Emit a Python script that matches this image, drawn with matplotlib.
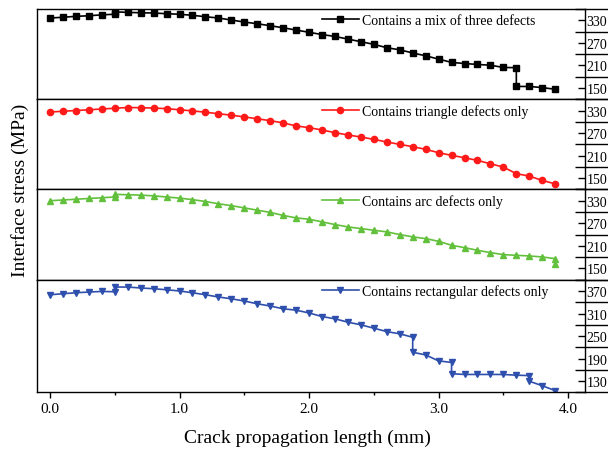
import numpy as np
import matplotlib.pyplot as plt
from matplotlib.ticker import FixedLocator, MultipleLocator, FormatStrFormatter, NullLocator

plt.rcParams['font.family'] = ['Liberation Serif', 'DejaVu Serif']

# 裂纹扩展长度 (mm) 与界面应力 (MPa)
x_mix = [0.0, 0.1, 0.2, 0.3, 0.4, 0.5, 0.5, 0.6, 0.7, 0.8, 0.9, 1.0, 1.1, 1.2, 1.3, 1.4,
         1.5, 1.6, 1.7, 1.8, 1.9, 2.0, 2.1, 2.2, 2.3, 2.4, 2.5, 2.6, 2.7, 2.8, 2.9, 3.0,
         3.1, 3.2, 3.3, 3.4, 3.5, 3.6, 3.6, 3.7, 3.8, 3.9]
s_mix = [336, 338, 340.5, 342, 344.5, 346, 352.5, 351, 350, 349.3, 347.5, 346, 343.2, 339.5, 336, 330.7,
         325.3, 320.8, 315.5, 310, 304, 298, 292, 287, 280, 273, 266, 257, 251.5, 243, 235.5, 226.7,
         218, 215, 212.5, 210.5, 204.5, 204, 154, 154, 151, 146.5]

x_tri = [0.0, 0.1, 0.2, 0.3, 0.4, 0.5, 0.6, 0.7, 0.8, 0.9, 1.0, 1.1, 1.2, 1.3, 1.4,
         1.5, 1.6, 1.7, 1.8, 1.9, 2.0, 2.1, 2.2, 2.3, 2.4, 2.5, 2.6, 2.7, 2.8, 2.9, 3.0,
         3.1, 3.2, 3.3, 3.4, 3.5, 3.6, 3.7, 3.8, 3.9]
s_tri = [326, 328, 330, 332, 334, 336, 338, 337.5, 336.5, 335, 332, 329, 325.5, 321.5, 317.5,
         313, 308, 303, 297, 289, 284.4, 278.2, 271.1, 265, 259.5, 253.3, 246.2, 240, 233.8, 226.7, 217.8,
         210.7, 204.4, 197.3, 188.4, 179.5, 162, 155.6, 144, 135]

x_arc = [0.0, 0.1, 0.2, 0.3, 0.4, 0.5, 0.5, 0.6, 0.7, 0.8, 0.9, 1.0, 1.1, 1.2, 1.3, 1.4,
         1.5, 1.6, 1.7, 1.8, 1.9, 2.0, 2.1, 2.2, 2.3, 2.4, 2.5, 2.6, 2.7, 2.8, 2.9, 3.0,
         3.1, 3.2, 3.3, 3.4, 3.5, 3.6, 3.7, 3.8, 3.9, 3.9]
s_arc = [330, 332, 334, 336, 338, 340, 347, 346, 345, 343, 340, 337, 333, 328, 322, 317,
         311, 305, 299, 291, 284.4, 280.9, 273.8, 266.7, 260.4, 256, 251.5, 247.2, 240, 233.9, 229.3, 222.2,
         211.6, 205.3, 198.2, 192, 186.7, 184.9, 183.2, 180.5, 176, 163]

x_rect = [0.0, 0.1, 0.2, 0.3, 0.4, 0.5, 0.5, 0.6, 0.7, 0.8, 0.9, 1.0, 1.1, 1.2, 1.3, 1.4,
          1.5, 1.6, 1.7, 1.8, 1.9, 2.0, 2.1, 2.2, 2.3, 2.4, 2.5, 2.6, 2.7, 2.8, 2.8, 2.9, 3.0,
          3.1, 3.1, 3.2, 3.3, 3.4, 3.5, 3.6, 3.7, 3.7, 3.8, 3.9]
s_rect = [360, 362.7, 365.3, 367.2, 368.8, 368, 380.5, 380.5, 378, 376, 373.3, 370, 365.3, 360, 354, 349.3,
          343.2, 336, 330, 322.7, 319, 311.5, 302, 296, 287, 280, 271, 262, 256, 247, 207, 200, 184,
          180, 150, 148, 148, 148, 148, 146, 145, 130, 118, 105]

labels = ['Contains a mix of three defects', 'Contains triangle defects only',
          'Contains arc defects only', 'Contains rectangular defects only']
colors = ['#000000', '#ff1a1a', '#62c03c', '#2f4fad']
markers = ['s', 'o', '^', 'v']
marker_sizes = [4, 4.5, 5, 5]

# 各子图纵轴范围与刻度
ylims = [(120, 360), (120, 360), (120, 360), (100, 400)]
yticks = [[150, 210, 270, 330], [150, 210, 270, 330], [150, 210, 270, 330], [130, 190, 250, 310, 370]]

xs = [x_mix, x_tri, x_arc, x_rect]
ss = [s_mix, s_tri, s_arc, s_rect]


def style_panel(ax, ylim, ticks, is_bottom):
    minor = [t - 30 for t in ticks] + [ticks[-1] + 30]

    # 次刻度朝内的一段 (twinx 会把主轴刻度改到左边, 所以先建)
    ax2 = ax.twinx()
    ax2.set_ylim(*ylim)
    ax2.yaxis.set_major_locator(NullLocator())
    ax2.yaxis.set_minor_locator(FixedLocator(minor))
    ax2.tick_params(axis='y', which='minor', direction='in', length=7, width=1)
    for sp in ax2.spines.values():
        sp.set_visible(False)

    ax.set_ylim(*ylim)
    ax.set_xlim(-0.1, 4.13)
    for sp in ax.spines.values():
        sp.set_linewidth(1.0)

    # 右侧刻度: 主刻度朝内, 次刻度向外延长
    ax.yaxis.tick_right()
    ax.yaxis.set_major_locator(FixedLocator(ticks))
    ax.yaxis.set_minor_locator(FixedLocator(minor))
    ax.tick_params(axis='y', which='major', direction='in', length=5, width=1,
                   labelsize=10, pad=1.2, left=False, labelleft=False)
    ax.tick_params(axis='y', which='minor', direction='out', length=18, width=1, left=False)

    ax.xaxis.set_major_locator(MultipleLocator(1.0))
    ax.xaxis.set_minor_locator(MultipleLocator(0.5))
    if is_bottom:
        ax.xaxis.set_major_formatter(FormatStrFormatter('%.1f'))
        ax.tick_params(axis='x', which='major', direction='out', length=4, width=1,
                       labelsize=11, pad=3)
        ax.tick_params(axis='x', which='minor', direction='out', length=2.5, width=1)
    else:
        ax.tick_params(axis='x', which='both', bottom=False, top=False, labelbottom=False)


fig = plt.figure(figsize=(6.08, 4.56), dpi=100)
gs = fig.add_gridspec(4, 1, height_ratios=[4, 4, 4, 5], hspace=0,
                      left=37 / 608, right=585 / 608, top=1 - 10 / 456, bottom=1 - 393.5 / 456)

for i in range(4):
    ax = fig.add_subplot(gs[i])
    ax.plot(xs[i], ss[i], color=colors[i], marker=markers[i], markersize=marker_sizes[i],
            linewidth=1.2, label=labels[i])
    style_panel(ax, ylims[i], yticks[i], i == 3)
    h_px = 112.5 if i == 3 else 90
    ax.legend(loc='center left', bbox_to_anchor=(0.5195, 1 - 11.5 / h_px), frameon=False,
              fontsize=10, handlelength=2.7, handletextpad=0.2, borderpad=0, borderaxespad=0)

fig.text(20 / 608, 1 - 190 / 456, 'Interface stress (MPa)', rotation=90,
         ha='center', va='center', fontsize=14)
fig.text(307 / 608, 1 - 438 / 456, 'Crack propagation length (mm)',
         ha='center', va='center', fontsize=14)

plt.savefig('out.png', dpi=100)
